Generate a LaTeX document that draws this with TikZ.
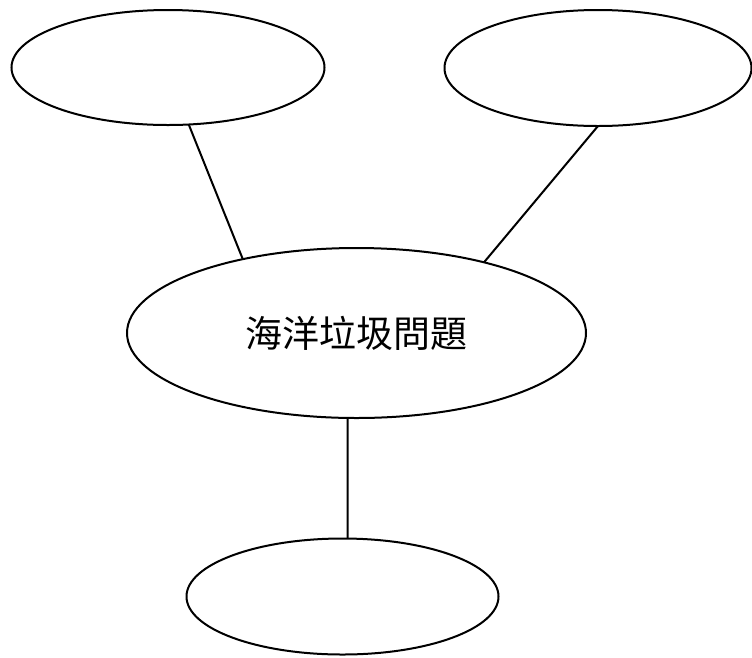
\documentclass[tikz,border=0pt]{standalone}
\usepackage{fontspec}
\newfontfamily\cjk{Noto Sans CJK TC}
\usetikzlibrary{shapes.geometric}
\begin{document}
\begin{tikzpicture}[x=1pt,y=-1pt,
  bubble/.style={draw=black,line width=2pt,ellipse,inner sep=0pt,outer sep=0pt},
  link/.style={draw=black,line width=2pt}]
\useasboundingbox (0,0) rectangle (752,657);
\node[bubble,minimum width=313pt,minimum height=115pt] (tl) at (168,67.5) {};
\node[bubble,minimum width=307pt,minimum height=116pt] (tr) at (598,68) {};
\node[bubble,minimum width=459pt,minimum height=170pt] (c) at (356.5,333)
  {\cjk\fontsize{37}{40}\selectfont 海洋垃圾問題};
\node[bubble,minimum width=312pt,minimum height=116pt] (b) at (342.5,596.5) {};
\draw[link] (tl.-70.8) -- (c.147);
\draw[link] (tr.-90) -- (c.29.2);
\draw[link] (c.-96) -- (b.85.6);
\end{tikzpicture}
\end{document}
